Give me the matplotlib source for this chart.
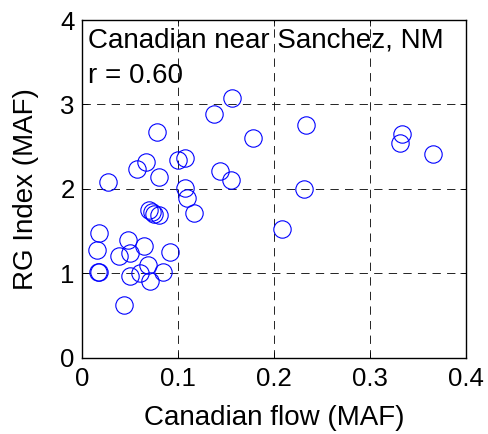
import matplotlib
matplotlib.use("Agg")
import matplotlib.pyplot as plt

# Canadian River flow vs. Rio Grande index (million acre-feet)
canadian_flow = [
    0.1558, 0.137, 0.0779, 0.2337, 0.1784, 0.334, 0.3318, 0.3663,
    0.0271, 0.0567, 0.0661, 0.080, 0.1002, 0.1075, 0.1437, 0.1551,
    0.231, 0.1075, 0.1096, 0.1162, 0.208, 0.0696, 0.0723, 0.0744,
    0.0803, 0.0177, 0.0153, 0.0163, 0.0177, 0.0386, 0.048, 0.0497,
    0.0643, 0.0915, 0.0689, 0.0602, 0.0501, 0.0703, 0.0845, 0.0431,
]
rg_index = [
    3.08, 2.886, 2.677, 2.752, 2.598, 2.653, 2.546, 2.416,
    2.077, 2.231, 2.313, 2.136, 2.337, 2.361, 2.215, 2.104,
    1.998, 2.006, 1.895, 1.713, 1.528, 1.745, 1.729, 1.702,
    1.69, 1.480, 1.275, 1.019, 1.011, 1.200, 1.390, 1.244,
    1.323, 1.248, 1.098, 1.007, 0.963, 0.904, 1.019, 0.624,
]
x_ticks = [0, 0.1, 0.2, 0.3, 0.4]
x_tick_labels = ["0", "0.1", "0.2", "0.3", "0.4"]
y_ticks = [0, 1, 2, 3, 4]
title_lines = ["Canadian near Sanchez, NM", "r = 0.60"]

plt.rcParams["font.family"] = ["Liberation Sans", "DejaVu Sans"]

fig = plt.figure(figsize=(4.89, 4.34), dpi=100)
ax = fig.add_axes([0.1683, 0.1758, 0.9524 - 0.1683, 0.9539 - 0.1758])

ax.plot(canadian_flow, rg_index, linestyle="none", marker="o",
        markersize=12.5, markerfacecolor="none", markeredgecolor="#0000ff",
        markeredgewidth=0.8)

ax.set_xlim(0, 0.4)
ax.set_ylim(0, 4)
ax.set_xticks(x_ticks)
ax.set_xticklabels(x_tick_labels)
ax.set_yticks(y_ticks)
ax.tick_params(direction="in", length=4, width=0.6, labelsize=18.5,
               top=True, right=True)
ax.tick_params(axis="x", pad=7)
ax.tick_params(axis="y", pad=5.5)
ax.grid(True, color="black", linestyle=(0, (10, 7.5)), linewidth=0.6)
for s in ax.spines.values():
    s.set_linewidth(1.0)

ax.set_xlabel("Canadian flow (MAF)", fontsize=20, labelpad=10)
ax.set_ylabel("RG Index (MAF)", fontsize=20, labelpad=15)

ax.text(0.016, 0.919, title_lines[0], transform=ax.transAxes,
        fontsize=20, va="baseline", ha="left")
ax.text(0.016, 0.814, title_lines[1], transform=ax.transAxes,
        fontsize=20, va="baseline", ha="left")

fig.savefig("out.png", dpi=100)
